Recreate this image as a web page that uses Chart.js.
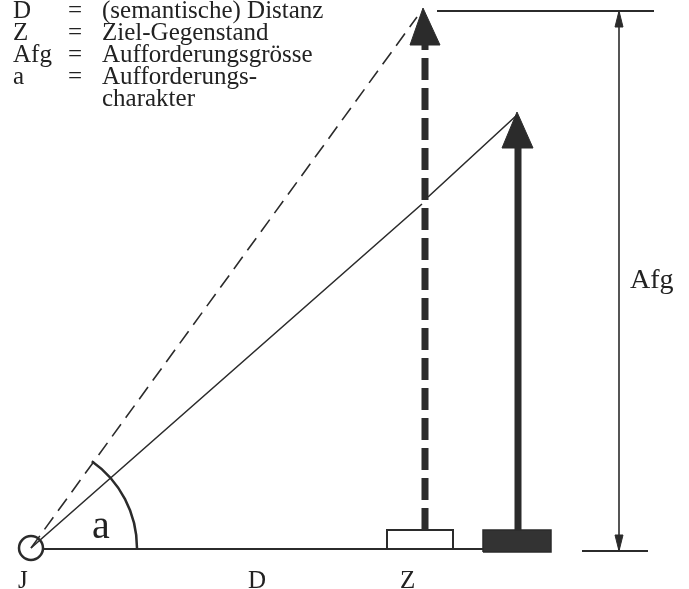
<!DOCTYPE html>
<html>
<head>
<meta charset="utf-8">
<script src="https://cdn.jsdelivr.net/npm/chart.js@4.4.1/dist/chart.umd.min.js"></script>
<style>
  html, body { margin: 0; padding: 0; background: #fff; }
  #wrap { width: 689px; height: 589px; position: relative; }
</style>
</head>
<body>
<div id="wrap"><canvas id="diagram"></canvas></div>
<script>
// diagram values, origin at J, units along D (x) and Afg (y)
const baseLine = [[12, -1], [452, -1]];
const rightBase = [[551, -3], [617, -3]];
const topLine = [[406, 537], [623, 537]];
const dashedRay = [[0, 0], [386, 531]];
const solidRay = [[0, 0], [391, 344], null, [397, 351], [486, 433]];
const dashedShaft = [[394, 18], [394, 504]];
const dashedHead = [[379, 503], [392, 540], [409, 503], [379, 503]];
const solidShaft = [[487, 18], [487, 401]];
const solidHead = [[471, 400], [486, 436], [502, 400], [471, 400]];
const afgLine = [[588, -3], [588, 537]];
const afgHeadTop = [[584, 521], [588, 537], [592, 521], [584, 521]];
const afgHeadBottom = [[584, 13], [588, -3], [592, 13], [584, 13]];
const whiteBlock = [[356, -1], [356, 18], [422, 18], [422, -1]];
const blackBlock = [[452, -4], [452, 18], [520, 18], [520, -4], [452, -4]];
const originJ = [[0, 0]];
const angleArc = [106, 0, 55]; // radius, start deg, end deg

const legendKeys = ["D", "Z", "Afg", "a", ""];
const legendTexts = ["(semantische) Distanz", "Ziel-Gegenstand", "Aufforderungsgrösse", "Aufforderungs-", "charakter"];
const legendRows = [530, 508, 486, 464, 442];
const axisLabels = ["J", "D", "Z", "Afg", "a"];
const axisLabelPos = [[-13, -40], [217, -40], [369, -40], [599, 260], [61, 10]];
const axisLabelSize = [25, 25, 25, 28, 40];

const ink = "#2b2b2b";

const pts = (arr) => arr.map((p) => (p ? { x: p[0], y: p[1] } : { x: null, y: null }));

const line = (data, width, dash) => ({
  data: pts(data),
  showLine: true,
  borderColor: ink,
  borderWidth: width,
  borderDash: dash || [],
  borderCapStyle: "butt",
  pointRadius: 0,
  spanGaps: false,
  fill: false,
});

const shape = (data, fillColor, width) => ({
  data: pts(data),
  showLine: true,
  borderColor: ink,
  borderWidth: width,
  backgroundColor: fillColor,
  pointRadius: 0,
  fill: "shape",
});

const extrasPlugin = {
  id: "extras",
  afterDatasetsDraw(chart) {
    const { ctx, scales } = chart;
    const xs = scales.x;
    const ys = scales.y;
    const cx = xs.getPixelForValue(0);
    const cy = ys.getPixelForValue(0);
    const r = xs.getPixelForValue(angleArc[0]) - cx;

    ctx.save();
    ctx.strokeStyle = ink;
    ctx.lineWidth = 2.5;
    ctx.beginPath();
    ctx.arc(cx, cy, r, -angleArc[2] * Math.PI / 180, -angleArc[1] * Math.PI / 180);
    ctx.stroke();

    ctx.fillStyle = "#222";
    ctx.textBaseline = "alphabetic";
    legendRows.forEach((row, i) => {
      const py = ys.getPixelForValue(row);
      ctx.font = "25px 'Liberation Serif'";
      ctx.fillText(legendKeys[i], 13, py);
      if (legendKeys[i]) ctx.fillText("=", 68, py);
      ctx.fillText(legendTexts[i], 102, py);
    });

    axisLabels.forEach((lab, i) => {
      ctx.font = axisLabelSize[i] + "px 'Liberation Serif'";
      ctx.fillText(lab, xs.getPixelForValue(axisLabelPos[i][0]), ys.getPixelForValue(axisLabelPos[i][1]));
    });
    ctx.restore();
  },
};

new Chart(document.getElementById("diagram"), {
  type: "scatter",
  data: {
    datasets: [
      line(baseLine, 2.2),
      line(rightBase, 2),
      line(topLine, 2),
      line(dashedRay, 1.6, [15, 8]),
      line(solidRay, 1.6),
      line(dashedShaft, 7, [22, 8]),
      shape(dashedHead, ink, 1),
      line(solidShaft, 7),
      shape(solidHead, ink, 1),
      line(afgLine, 1.6),
      shape(afgHeadTop, ink, 1),
      shape(afgHeadBottom, ink, 1),
      shape(whiteBlock, "#ffffff", 2),
      shape(blackBlock, "#333333", 1.5),
      {
        data: pts(originJ),
        pointRadius: 12,
        pointHoverRadius: 12,
        pointBackgroundColor: "#ffffff",
        pointBorderColor: ink,
        pointBorderWidth: 2.5,
        clip: false,
      },
    ],
  },
  options: {
    responsive: true,
    maintainAspectRatio: false,
    animation: false,
    layout: { padding: 0, autoPadding: false },
    plugins: { legend: { display: false }, tooltip: { enabled: false } },
    scales: {
      x: { type: "linear", min: -31, max: 658, display: false },
      y: { type: "linear", min: -41, max: 548, display: false },
    },
  },
  plugins: [extrasPlugin],
});
</script>
</body>
</html>
